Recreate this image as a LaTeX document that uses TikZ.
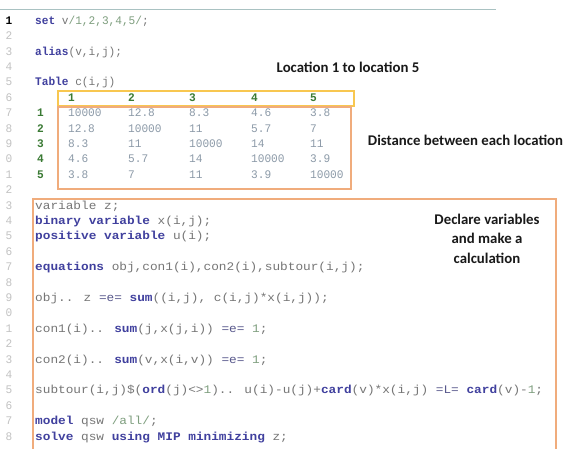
\documentclass[tikz,border=0pt]{standalone}
\usepackage{fontspec}
\setmainfont{Carlito}
\newfontfamily\codefont{Liberation Mono}[FakeStretch=0.96]
\newfontfamily\codefontw{Liberation Mono}[FakeStretch=1.1]
\definecolor{kwc}{HTML}{40409E}
\definecolor{idc}{HTML}{767676}
\definecolor{numc}{HTML}{7E9E7E}
\definecolor{tabc}{HTML}{8C9AA8}
\definecolor{grn}{HTML}{3A7A34}
\definecolor{lnc}{HTML}{C2C2C2}
\definecolor{boxy}{HTML}{F8C750}
\definecolor{boxo}{HTML}{F0AC7C}
\definecolor{topl}{HTML}{A9C2C2}
\newcommand\kw[1]{{\bfseries\color{kwc}#1}}
\newcommand\nm[1]{{\color{numc}#1}}
\newcommand\opc[1]{{\color{kwc!55!idc}#1}}
\begin{document}
\begin{tikzpicture}[x=1pt,y=-1pt,
  code/.style={anchor=mid west, inner sep=0pt, font=\codefont\fontsize{11.6}{12}\selectfont, text=idc},
  codew/.style={anchor=mid west, inner sep=0pt, font=\codefontw\fontsize{11.6}{12}\selectfont, text=idc},
  lnum/.style={anchor=mid, inner sep=0pt, font=\codefont\fontsize{11.6}{12}\selectfont, text=lnc},
  cell/.style={anchor=mid west, inner sep=0pt, font=\codefont\fontsize{11.6}{12}\selectfont, text=tabc},
  rlab/.style={anchor=mid west, inner sep=0pt, font=\codefont\bfseries\fontsize{11.6}{12}\selectfont, text=grn},
  hdr/.style={anchor=mid west, inner sep=0pt, font=\codefont\bfseries\fontsize{11.6}{12}\selectfont, text=grn},
  lab/.style={inner sep=0pt, font=\bfseries\fontsize{14.8}{19.6}\selectfont, text=black!90, align=center},
  ybox/.style={draw=boxy, line width=1.6pt},
  obox/.style={draw=boxo, line width=1.6pt}]
\useasboundingbox (0,0) rectangle (570,448);
\fill[white] (0,0) rectangle (570,448);
% top rule
\coordinate (tl) at (0,9);
\coordinate (tr) at (496,9);
\draw[topl, line width=0.8pt] (tl) -- (tr);
% line numbers
\foreach \n in {1,...,28}{
  \pgfmathtruncatemacro{\d}{mod(\n,10)}
  \pgfmathsetmacro{\yy}{22+(\n-1)*15.4}
  \ifnum\n=1
    \node[lnum, text=black, font=\codefont\bfseries\fontsize{11.6}{12}\selectfont] (ln\n) at (9,\yy) {\d};
  \else
    \node[lnum] (ln\n) at (9,\yy) {\d};
  \fi
}
% boxes
\node[ybox, minimum width=296pt, minimum height=15pt, inner sep=0pt, anchor=north west] (hbox) at (57,90) {};
\node[obox, minimum width=293pt, minimum height=82pt, inner sep=0pt, anchor=north west] (tbox) at (57,106) {};
\node[obox, minimum width=523pt, minimum height=260pt, inner sep=0pt, anchor=north west] (bbox) at (32,198) {};
% code lines
\node[code] (c1) at (35,22) {\kw{set} v\nm{/1,2,3,4,5/};};
\node[code] (c3) at (35,52.8) {\kw{alias}(v,i,j);};
\node[code] (c5) at (35,83.6) {\kw{Table} c(i,j)};
% header
\node[hdr] (h1) at (68,99) {1};
\node[hdr] (h2) at (128,99) {2};
\node[hdr] (h3) at (189,99) {3};
\node[hdr] (h4) at (251,99) {4};
\node[hdr] (h5) at (310,99) {5};
% rows
\node[rlab] (r1) at (37,114.4) {1};
\node[cell] (c11) at (68,114.4) {10000};
\node[cell] (c12) at (128,114.4) {12.8};
\node[cell] (c13) at (189,114.4) {8.3};
\node[cell] (c14) at (251,114.4) {4.6};
\node[cell] (c15) at (310,114.4) {3.8};
\node[rlab] (r2) at (37,129.8) {2};
\node[cell] (c21) at (68,129.8) {12.8};
\node[cell] (c22) at (128,129.8) {10000};
\node[cell] (c23) at (189,129.8) {11};
\node[cell] (c24) at (251,129.8) {5.7};
\node[cell] (c25) at (310,129.8) {7};
\node[rlab] (r3) at (37,145.2) {3};
\node[cell] (c31) at (68,145.2) {8.3};
\node[cell] (c32) at (128,145.2) {11};
\node[cell] (c33) at (189,145.2) {10000};
\node[cell] (c34) at (251,145.2) {14};
\node[cell] (c35) at (310,145.2) {11};
\node[rlab] (r4) at (37,160.6) {4};
\node[cell] (c41) at (68,160.6) {4.6};
\node[cell] (c42) at (128,160.6) {5.7};
\node[cell] (c43) at (189,160.6) {14};
\node[cell] (c44) at (251,160.6) {10000};
\node[cell] (c45) at (310,160.6) {3.9};
\node[rlab] (r5) at (37,176) {5};
\node[cell] (c51) at (68,176) {3.8};
\node[cell] (c52) at (128,176) {7};
\node[cell] (c53) at (189,176) {11};
\node[cell] (c54) at (251,176) {3.9};
\node[cell] (c55) at (310,176) {10000};
% declarations and equations
\node[codew] (c13l) at (35,206.8) {variable z;};
\node[codew] (c14l) at (35,222.2) {\kw{binary variable} x(i,j);};
\node[codew] (c15l) at (35,237.6) {\kw{positive variable} u(i);};
\node[codew] (c17l) at (35,268.4) {\kw{equations} obj,con1(i),con2(i),subtour(i,j);};
\node[codew] (c19l) at (35,299.2) {obj.. z \opc{=e=} \kw{sum}((i,j), c(i,j)*x(i,j));};
\node[codew] (c21l) at (35,330) {con1(i).. \kw{sum}(j,x(j,i)) \opc{=e=} \nm{1};};
\node[codew] (c23l) at (35,360.8) {con2(i).. \kw{sum}(v,x(i,v)) \opc{=e=} \nm{1};};
\node[codew] (c25l) at (35,391.6) {subtour(i,j)\$(\kw{ord}(j)<>\nm{1}).. u(i)-u(j)+\kw{card}(v)*x(i,j) \opc{=L=} \kw{card}(v)-\nm{1};};
\node[codew] (c27l) at (35,422.4) {\kw{model} qsw \nm{/all/};};
\node[codew] (c28l) at (35,437.8) {\kw{solve} qsw \kw{using} \kw{MIP} \kw{minimizing} z;};
% labels
\node[lab] (lloc) at (348,67) {Location 1 to location 5};
\node[lab] (ldist) at (465.5,140) {Distance between each location};
\node[lab] (ldecl) at (487,238.5) {Declare variables\\and make a\\calculation};
\end{tikzpicture}
\end{document}
